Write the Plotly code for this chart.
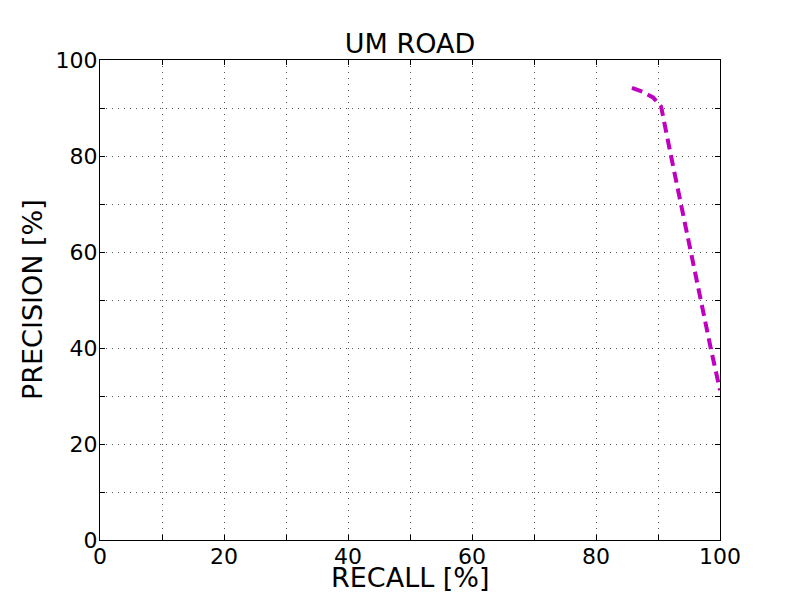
import plotly.graph_objects as go

recall = [85.8, 87.5, 89.2, 90.5, 92.1, 93.7, 95.2, 96.8, 98.5, 100.0]
precision = [94.2, 93.4, 92.2, 90.3, 80.0, 70.0, 60.0, 50.0, 40.0, 31.2]

tick_vals = [0, 10, 20, 30, 40, 50, 60, 70, 80, 90, 100]
tick_text = ["0", "", "20", "", "40", "", "60", "", "80", "", "100"]

# page has an 8px body margin; plot area should sit at page x 100..720, y 60..540
L, T, W, H = 92, 52, 620, 480

fig = go.Figure()
fig.add_trace(go.Scatter(x=recall, y=precision, mode="lines",
                         line=dict(color="#bf00bf", width=4, dash="11px,6px"),
                         showlegend=False, cliponaxis=True))

axis_common = dict(
    range=[0, 100], tickvals=tick_vals, ticktext=tick_text,
    showline=True, linecolor="black", linewidth=1.2, mirror="allticks",
    ticks="inside", ticklen=5, tickcolor="black", tickwidth=1,
    showgrid=True, gridcolor="#555", griddash="1px,5px", gridwidth=1,
    zeroline=False, tickfont=dict(size=22, color="black"),
    automargin=False,
)

fig.update_layout(
    width=800, height=600,
    margin=dict(l=L, r=800 - L - W, t=T, b=600 - T - H),
    paper_bgcolor="white", plot_bgcolor="white",
    font=dict(family="DejaVu Sans", color="black"),
    title=dict(text="UM ROAD", x=(L + W / 2) / 800, xanchor="center", yref="container",
               y=1 - 36 / 600, yanchor="middle", font=dict(size=27)),
    xaxis=dict(**axis_common, ticklabelstandoff=-4),
    yaxis=dict(**axis_common, ticklabelstandoff=-3),
    annotations=[
        dict(text="RECALL [%]", xref="paper", yref="paper", x=0.5, y=(T + H - 569) / H,
             xanchor="center", yanchor="middle", showarrow=False, font=dict(size=27)),
        dict(text="PRECISION [%]", xref="paper", yref="paper", x=(24 - L) / W, y=0.5,
             xanchor="center", yanchor="middle", textangle=-90, showarrow=False,
             font=dict(size=27)),
    ],
)

fig.write_html("out.html")
